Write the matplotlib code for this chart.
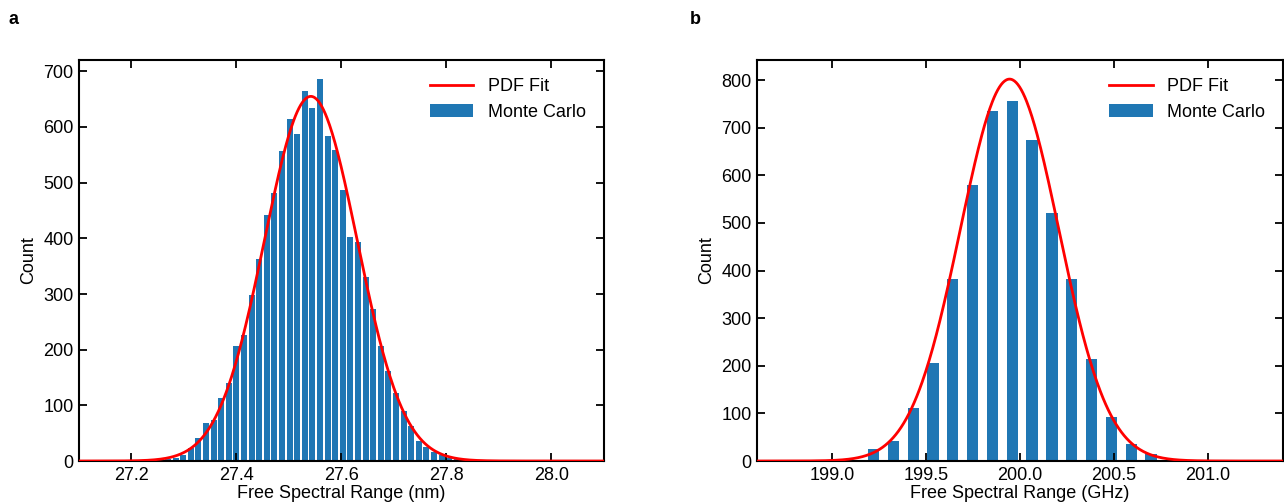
import numpy as np
import matplotlib
matplotlib.use("Agg")
from matplotlib import pyplot as plt

plt.rcParams["font.family"] = ["Liberation Sans", "DejaVu Sans"]
plt.rcParams["font.size"] = 13

# panel a: histogram in nm
nm_first_center = 27.255
nm_bin = 0.01448
nm_counts = [2, 4, 6, 11, 23, 42, 69, 74, 113, 140, 206, 227, 299, 362, 442, 481,
             556, 614, 588, 664, 635, 686, 583, 559, 486, 402, 393, 330, 273, 207,
             162, 122, 89, 63, 36, 25, 17, 11, 6, 3]
nm_fit = (27.5416, 0.0882, 655)  # mu, sigma, peak height
nm_xlim = (27.1, 28.1)
nm_ticks = [27.2, 27.4, 27.6, 27.8, 28.0]

# panel b: histogram in GHz
ghz_first_center = 199.22
ghz_bin = 0.1055
ghz_counts = [25, 42, 112, 206, 382, 580, 734, 755, 674, 521, 382, 214, 92, 36, 15]
ghz_fit = (199.944, 0.262, 802)
ghz_xlim = (198.6, 201.4)
ghz_ticks = [199.0, 199.5, 200.0, 200.5, 201.0]

blue = "#1f77b4"


def panel(ax, first, width, counts, fit, xlim, ticks, rwidth, xlabel, letter):
    counts = np.array(counts, dtype=float)
    centers = first + width * np.arange(len(counts))
    edges = np.append(centers - width / 2, centers[-1] + width / 2)
    mu, sig, amp = fit
    x = np.linspace(xlim[0], xlim[1], 600)
    ax.plot(x, amp * np.exp(-(x - mu) ** 2 / (2 * sig ** 2)), color="red", lw=2,
            label="PDF Fit", zorder=3)
    ax.hist(centers, bins=edges, weights=counts, rwidth=rwidth, color=blue,
            label="Monte Carlo")
    ax.set_xlim(xlim)
    ax.set_xticks(ticks)
    ax.set_xlabel(xlabel, labelpad=1)
    ax.set_ylabel("Count", labelpad=4)
    ax.tick_params(direction="in", top=True, right=True, length=6, width=1.3,
                   labelsize=13, pad=4)
    for s in ax.spines.values():
        s.set_linewidth(1.5)
    ax.legend(loc="upper right", frameon=False, fontsize=13, handlelength=2.4,
              borderaxespad=0.6)
    ax.figure.text(letter[1], 0.962, letter[0], fontsize=13, fontweight="bold",
                   ha="left", va="center")


fig = plt.figure(figsize=(12.84, 5.04), dpi=100)
ax1 = fig.add_axes([0.0615, 0.0853, 0.4089, 0.7956])
ax2 = fig.add_axes([0.5896, 0.0853, 0.4097, 0.7956])

panel(ax1, nm_first_center, nm_bin, nm_counts, nm_fit, nm_xlim, nm_ticks, 0.78,
      "Free Spectral Range (nm)", ("a", 0.007))
panel(ax2, ghz_first_center, ghz_bin, ghz_counts, ghz_fit, ghz_xlim, ghz_ticks, 0.57,
      "Free Spectral Range (GHz)", ("b", 0.537))

fig.savefig("out.png", dpi=100)
